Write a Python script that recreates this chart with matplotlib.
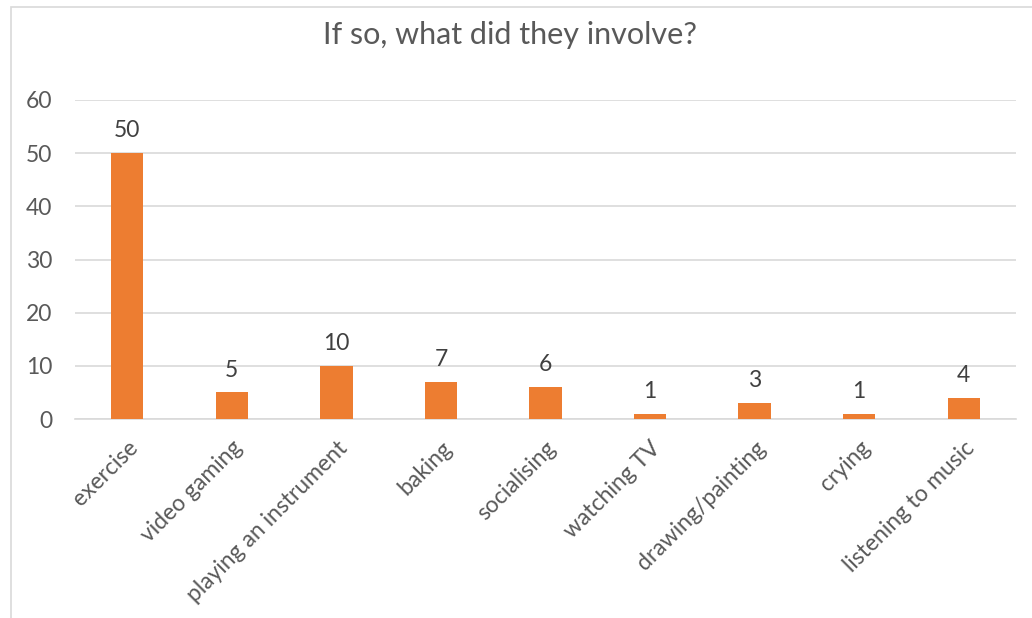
import matplotlib
matplotlib.use("Agg")
import matplotlib.pyplot as plt
from matplotlib.patches import Rectangle

categories = ["exercise", "video gaming", "playing an instrument", "baking",
              "socialising", "watching TV", "drawing/painting", "crying",
              "listening to music"]
values = [50, 5, 10, 7, 6, 1, 3, 1, 4]
yticks = [0, 10, 20, 30, 40, 50, 60]
title = "If so, what did they involve?"

plt.rcParams['font.family'] = ['Lato', 'DejaVu Sans']
W, H = 1032, 618
fig = plt.figure(figsize=(W/100, H/100), dpi=100)
ax = fig.add_axes([75/W, 1-419/H, (1016-75)/W, (419-100)/H])

x = list(range(len(categories)))
bars = ax.bar(x, values, width=0.31, color="#ED7D31", zorder=3)
for xi, v in zip(x, values):
    ax.annotate(str(v), (xi, v), xytext=(0, 8.5), textcoords="offset points",
                ha="center", va="bottom", fontsize=16.5, color="#404040")

ax.set_xlim(-0.5, len(categories) - 0.5)
ax.set_ylim(0, 60)
ax.set_yticks(yticks)
ax.yaxis.grid(True, color="#D9D9D9", linewidth=1.2, zorder=0)
ax.set_xticks(x)
ax.set_xticklabels(categories, rotation=45, ha="right", rotation_mode="anchor",
                   fontsize=16.5, color="#595959")
ax.tick_params(axis="y", labelsize=16.5, labelcolor="#595959", length=0, pad=16.5)
ax.tick_params(axis="x", length=0, pad=13)
for s in ["top", "right", "left"]:
    ax.spines[s].set_visible(False)
ax.spines["bottom"].set_color("#D9D9D9")
ax.spines["bottom"].set_linewidth(1.2)

fig.text(510/W, 1-35/H, title, ha="center", va="center", fontsize=22, color="#595959")

fig.patches.append(Rectangle((11/W, -0.1), 1.2, 1-7/H+0.1, transform=fig.transFigure,
                             fill=False, edgecolor="#D9D9D9", linewidth=1.2))

fig.savefig("out.png", dpi=100)
